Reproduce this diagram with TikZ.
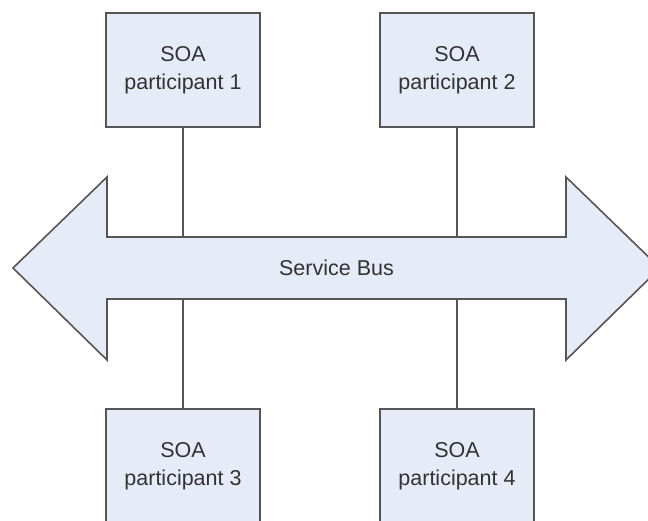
\documentclass[tikz,border=0pt]{standalone}
\usepackage{fontspec}
\setmainfont{Liberation Sans}
\definecolor{boxfill}{RGB}{230,236,247}
\definecolor{edgegray}{RGB}{85,85,85}
\definecolor{textgray}{RGB}{50,50,50}
\begin{document}
\begin{tikzpicture}[x=1pt,y=-1pt,
  participant/.style={draw=edgegray, line width=2pt, fill=boxfill,
    minimum width=154pt, minimum height=114pt, inner sep=0pt,
    align=center, font=\fontsize{21.5}{28}\selectfont, text=textgray},
  link/.style={draw=edgegray, line width=2pt}]
  \useasboundingbox (0,0) rectangle (648,520);
  \clip (0,0) rectangle (648,520);
  \fill[white] (0,0) rectangle (648,520);

  % double-headed bus arrow
  \draw[edgegray, line width=1.6pt, fill=boxfill, line join=miter]
    (13,268) -- (107,177) -- (107,237) -- (566,237) -- (566,177)
    -- (660,268) -- (566,360) -- (566,299) -- (107,299) -- (107,360) -- cycle;
  \node[minimum width=459pt, minimum height=62pt, inner sep=0pt,
        font=\fontsize{21.5}{28}\selectfont, text=textgray]
    (bus) at (336.5,268) {Service Bus};

  % participants
  \node[participant] (p1) at (183,70)  {SOA\\participant 1};
  \node[participant] (p2) at (457,70)  {SOA\\participant 2};
  \node[participant] (p3) at (183,466) {SOA\\participant 3};
  \node[participant] (p4) at (457,466) {SOA\\participant 4};

  % connections to the bus
  \draw[link] (p1.south) -- (p1.south |- bus.north);
  \draw[link] (p2.south) -- (p2.south |- bus.north);
  \draw[link] (p3.north) -- (p3.north |- bus.south);
  \draw[link] (p4.north) -- (p4.north |- bus.south);
\end{tikzpicture}
\end{document}
